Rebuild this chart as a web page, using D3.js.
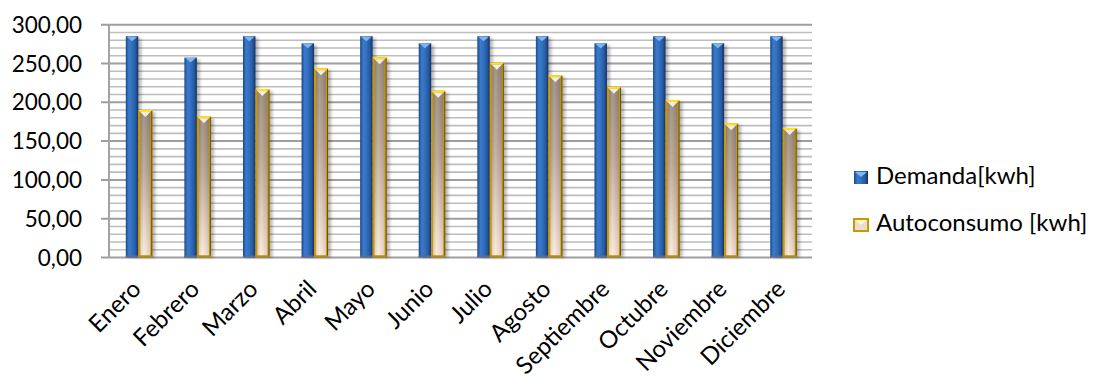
<!DOCTYPE html>
<html>
<head>
<meta charset="utf-8">
<script src="https://cdn.jsdelivr.net/npm/d3@7"></script>
<style>
  html, body { margin: 0; padding: 0; background: #fff; }
  svg text { font-family: Lato, "Open Sans", sans-serif; fill: #000; }
</style>
</head>
<body>
<svg id="chart" width="1096" height="379"></svg>
<script>
// Monthly energy: demand vs. self-consumption
const months = ["Enero", "Febrero", "Marzo", "Abril", "Mayo", "Junio",
                "Julio", "Agosto", "Septiembre", "Octubre", "Noviembre", "Diciembre"];
const demanda = [285.2, 257.6, 285.2, 276.0, 285.2, 276.0, 285.2, 285.2, 276.0, 285.2, 276.0, 285.2];
const autoconsumo = [190, 182, 217, 244, 258, 215, 251, 235, 220, 203, 173, 167];
const yTicks = [0, 50, 100, 150, 200, 250, 300];
const seriesNames = ["Demanda[kwh]", "Autoconsumo [kwh]"];

const svg = d3.select("#chart");
const plot = { left: 109, right: 812, top: 24.7, bottom: 257.5 };

const x = d3.scaleBand().domain(months).range([plot.left, plot.right]);
const y = d3.scaleLinear().domain([0, 300]).range([plot.bottom, plot.top]);
const fmt = v => d3.format(".2f")(v).replace(".", ",");

// ---- gradients & filters
const defs = svg.append("defs");
const blueG = defs.append("linearGradient").attr("id", "blueG").attr("x1", 0).attr("x2", 1).attr("y1", 0).attr("y2", 0);
[["0%", "#1d4a85"], ["25%", "#3a7acb"], ["45%", "#3573c2"], ["80%", "#2558a0"], ["100%", "#142f5c"]]
  .forEach(([o, c]) => blueG.append("stop").attr("offset", o).attr("stop-color", c));
const autoG = defs.append("linearGradient").attr("id", "autoG").attr("x1", 0).attr("x2", 0).attr("y1", 0).attr("y2", 1);
[["0%", "#9b8b7c"], ["40%", "#bba595"], ["100%", "#fdeadb"]]
  .forEach(([o, c]) => autoG.append("stop").attr("offset", o).attr("stop-color", c));
const autoH = defs.append("linearGradient").attr("id", "autoH").attr("x1", 0).attr("x2", 1).attr("y1", 0).attr("y2", 0);
[["0%", "rgba(0,0,0,0.10)"], ["35%", "rgba(255,255,255,0.10)"], ["100%", "rgba(0,0,0,0.12)"]]
  .forEach(([o, c]) => autoH.append("stop").attr("offset", o).attr("stop-color", c));
const shadow = defs.append("filter").attr("id", "shadow").attr("x", "-50%").attr("width", "200%");
shadow.append("feGaussianBlur").attr("stdDeviation", 1.6);

// ---- gridlines (minor every 10, major every 50)
const minor = d3.range(0, 301, 10).filter(v => v % 50 !== 0);
svg.append("g").selectAll("line").data(minor).join("line")
  .attr("x1", plot.left).attr("x2", plot.right)
  .attr("y1", d => y(d)).attr("y2", d => y(d))
  .attr("stroke", "#bdbdbd").attr("stroke-width", 1.6);
svg.append("g").selectAll("line").data(yTicks).join("line")
  .attr("x1", plot.left - 8).attr("x2", plot.right)
  .attr("y1", d => y(d)).attr("y2", d => y(d))
  .attr("stroke", "#9e9e9e").attr("stroke-width", 2);

// y axis line
svg.append("line").attr("x1", plot.left).attr("x2", plot.left)
  .attr("y1", plot.top).attr("y2", plot.bottom)
  .attr("stroke", "#a3a3a3").attr("stroke-width", 2);

// y tick labels
svg.append("g").selectAll("text").data(yTicks).join("text")
  .attr("x", 82).attr("y", d => y(d)).attr("dy", "0.36em")
  .attr("text-anchor", "end").attr("font-size", 22.5)
  .text(d => fmt(d));

// ---- bars
const bw = 12.5;
const groups = svg.append("g").selectAll("g").data(months).join("g")
  .attr("transform", d => `translate(${x(d) + x.bandwidth() / 2},0)`);

// Demanda bars
groups.append("rect").attr("class", "shadow")
  .attr("x", -bw + 3).attr("width", bw)
  .attr("y", (d, i) => y(demanda[i]) + 2).attr("height", (d, i) => y(0) - y(demanda[i]) - 2)
  .attr("fill", "rgba(0,0,0,0.28)").attr("filter", "url(#shadow)");
groups.append("rect")
  .attr("x", -bw).attr("width", bw)
  .attr("y", (d, i) => y(demanda[i])).attr("height", (d, i) => y(0) - y(demanda[i]))
  .attr("fill", "url(#blueG)");
groups.append("path")
  .attr("d", (d, i) => {
    const t = y(demanda[i]);
    return `M${-bw + 1},${t + 0.5} L${-1},${t + 0.5} L${-bw / 2},${t + 5} Z`;
  })
  .attr("fill", "#7fb6ef");
groups.append("rect")
  .attr("x", -bw).attr("width", bw).attr("y", y(0) - 2).attr("height", 2)
  .attr("fill", "#5a6f8c");

// Autoconsumo bars
const aw = 14;
groups.append("rect").attr("class", "shadow")
  .attr("x", 3).attr("width", aw)
  .attr("y", (d, i) => y(autoconsumo[i]) + 2).attr("height", (d, i) => y(0) - y(autoconsumo[i]) - 2)
  .attr("fill", "rgba(0,0,0,0.28)").attr("filter", "url(#shadow)");
groups.append("rect")
  .attr("x", 0).attr("width", aw)
  .attr("y", (d, i) => y(autoconsumo[i])).attr("height", (d, i) => y(0) - y(autoconsumo[i]))
  .attr("fill", "#c99a00");
groups.append("rect")
  .attr("x", 2).attr("width", aw - 4)
  .attr("y", (d, i) => y(autoconsumo[i]) + 2).attr("height", (d, i) => y(0) - y(autoconsumo[i]) - 4)
  .attr("fill", "url(#autoG)");
groups.append("rect")
  .attr("x", 2).attr("width", aw - 4)
  .attr("y", (d, i) => y(autoconsumo[i]) + 2).attr("height", (d, i) => y(0) - y(autoconsumo[i]) - 4)
  .attr("fill", "url(#autoH)");
groups.append("path")
  .attr("d", (d, i) => {
    const t = y(autoconsumo[i]);
    return `M0,${t} L${aw},${t} L${aw - 2},${t + 2} L2,${t + 2} Z`;
  })
  .attr("fill", "#ffe21a");
groups.append("path")
  .attr("d", (d, i) => {
    const t = y(autoconsumo[i]) + 2;
    return `M2,${t} L${aw - 2},${t} L${aw / 2},${t + 5} Z`;
  })
  .attr("fill", "#f4ece4");
groups.append("line")
  .attr("x1", aw - 0.5).attr("x2", aw - 0.5)
  .attr("y1", (d, i) => y(autoconsumo[i]) + 1).attr("y2", y(0))
  .attr("stroke", "#6b5000").attr("stroke-width", 1);
groups.append("rect")
  .attr("x", 0).attr("width", aw).attr("y", y(0) - 2).attr("height", 2.5)
  .attr("fill", "#a88a2c");

// x labels, rotated
svg.append("g").selectAll("text").data(months).join("text")
  .attr("transform", d => `translate(${x(d) + x.bandwidth() / 2 + 4},${plot.bottom + 33}) rotate(-45)`)
  .attr("text-anchor", "end").attr("font-size", 24)
  .text(d => d);

// ---- legend
const legend = svg.append("g");
const lg = [
  { name: seriesNames[0], y: 171 },
  { name: seriesNames[1], y: 218 }
];
// Demanda marker
legend.append("rect").attr("x", 854).attr("y", lg[0].y).attr("width", 14).attr("height", 13).attr("fill", "url(#blueG)");
legend.append("path").attr("d", `M855,${lg[0].y + 1} L867,${lg[0].y + 1} L861,${lg[0].y + 6} Z`).attr("fill", "#7fb6ef");
// Autoconsumo marker
legend.append("rect").attr("x", 853).attr("y", lg[1].y).attr("width", 16).attr("height", 14).attr("fill", "#c99a00");
legend.append("rect").attr("x", 855).attr("y", lg[1].y + 2).attr("width", 12).attr("height", 10).attr("fill", "#e9ddd2");
legend.append("path").attr("d", `M855,${lg[1].y + 2} L867,${lg[1].y + 2} L861,${lg[1].y + 7} Z`).attr("fill", "#fff6c8");
legend.selectAll("text").data(lg).join("text")
  .attr("x", 876).attr("y", d => d.y + 12.5)
  .attr("font-size", 24)
  .text(d => d.name);
</script>
</body>
</html>
